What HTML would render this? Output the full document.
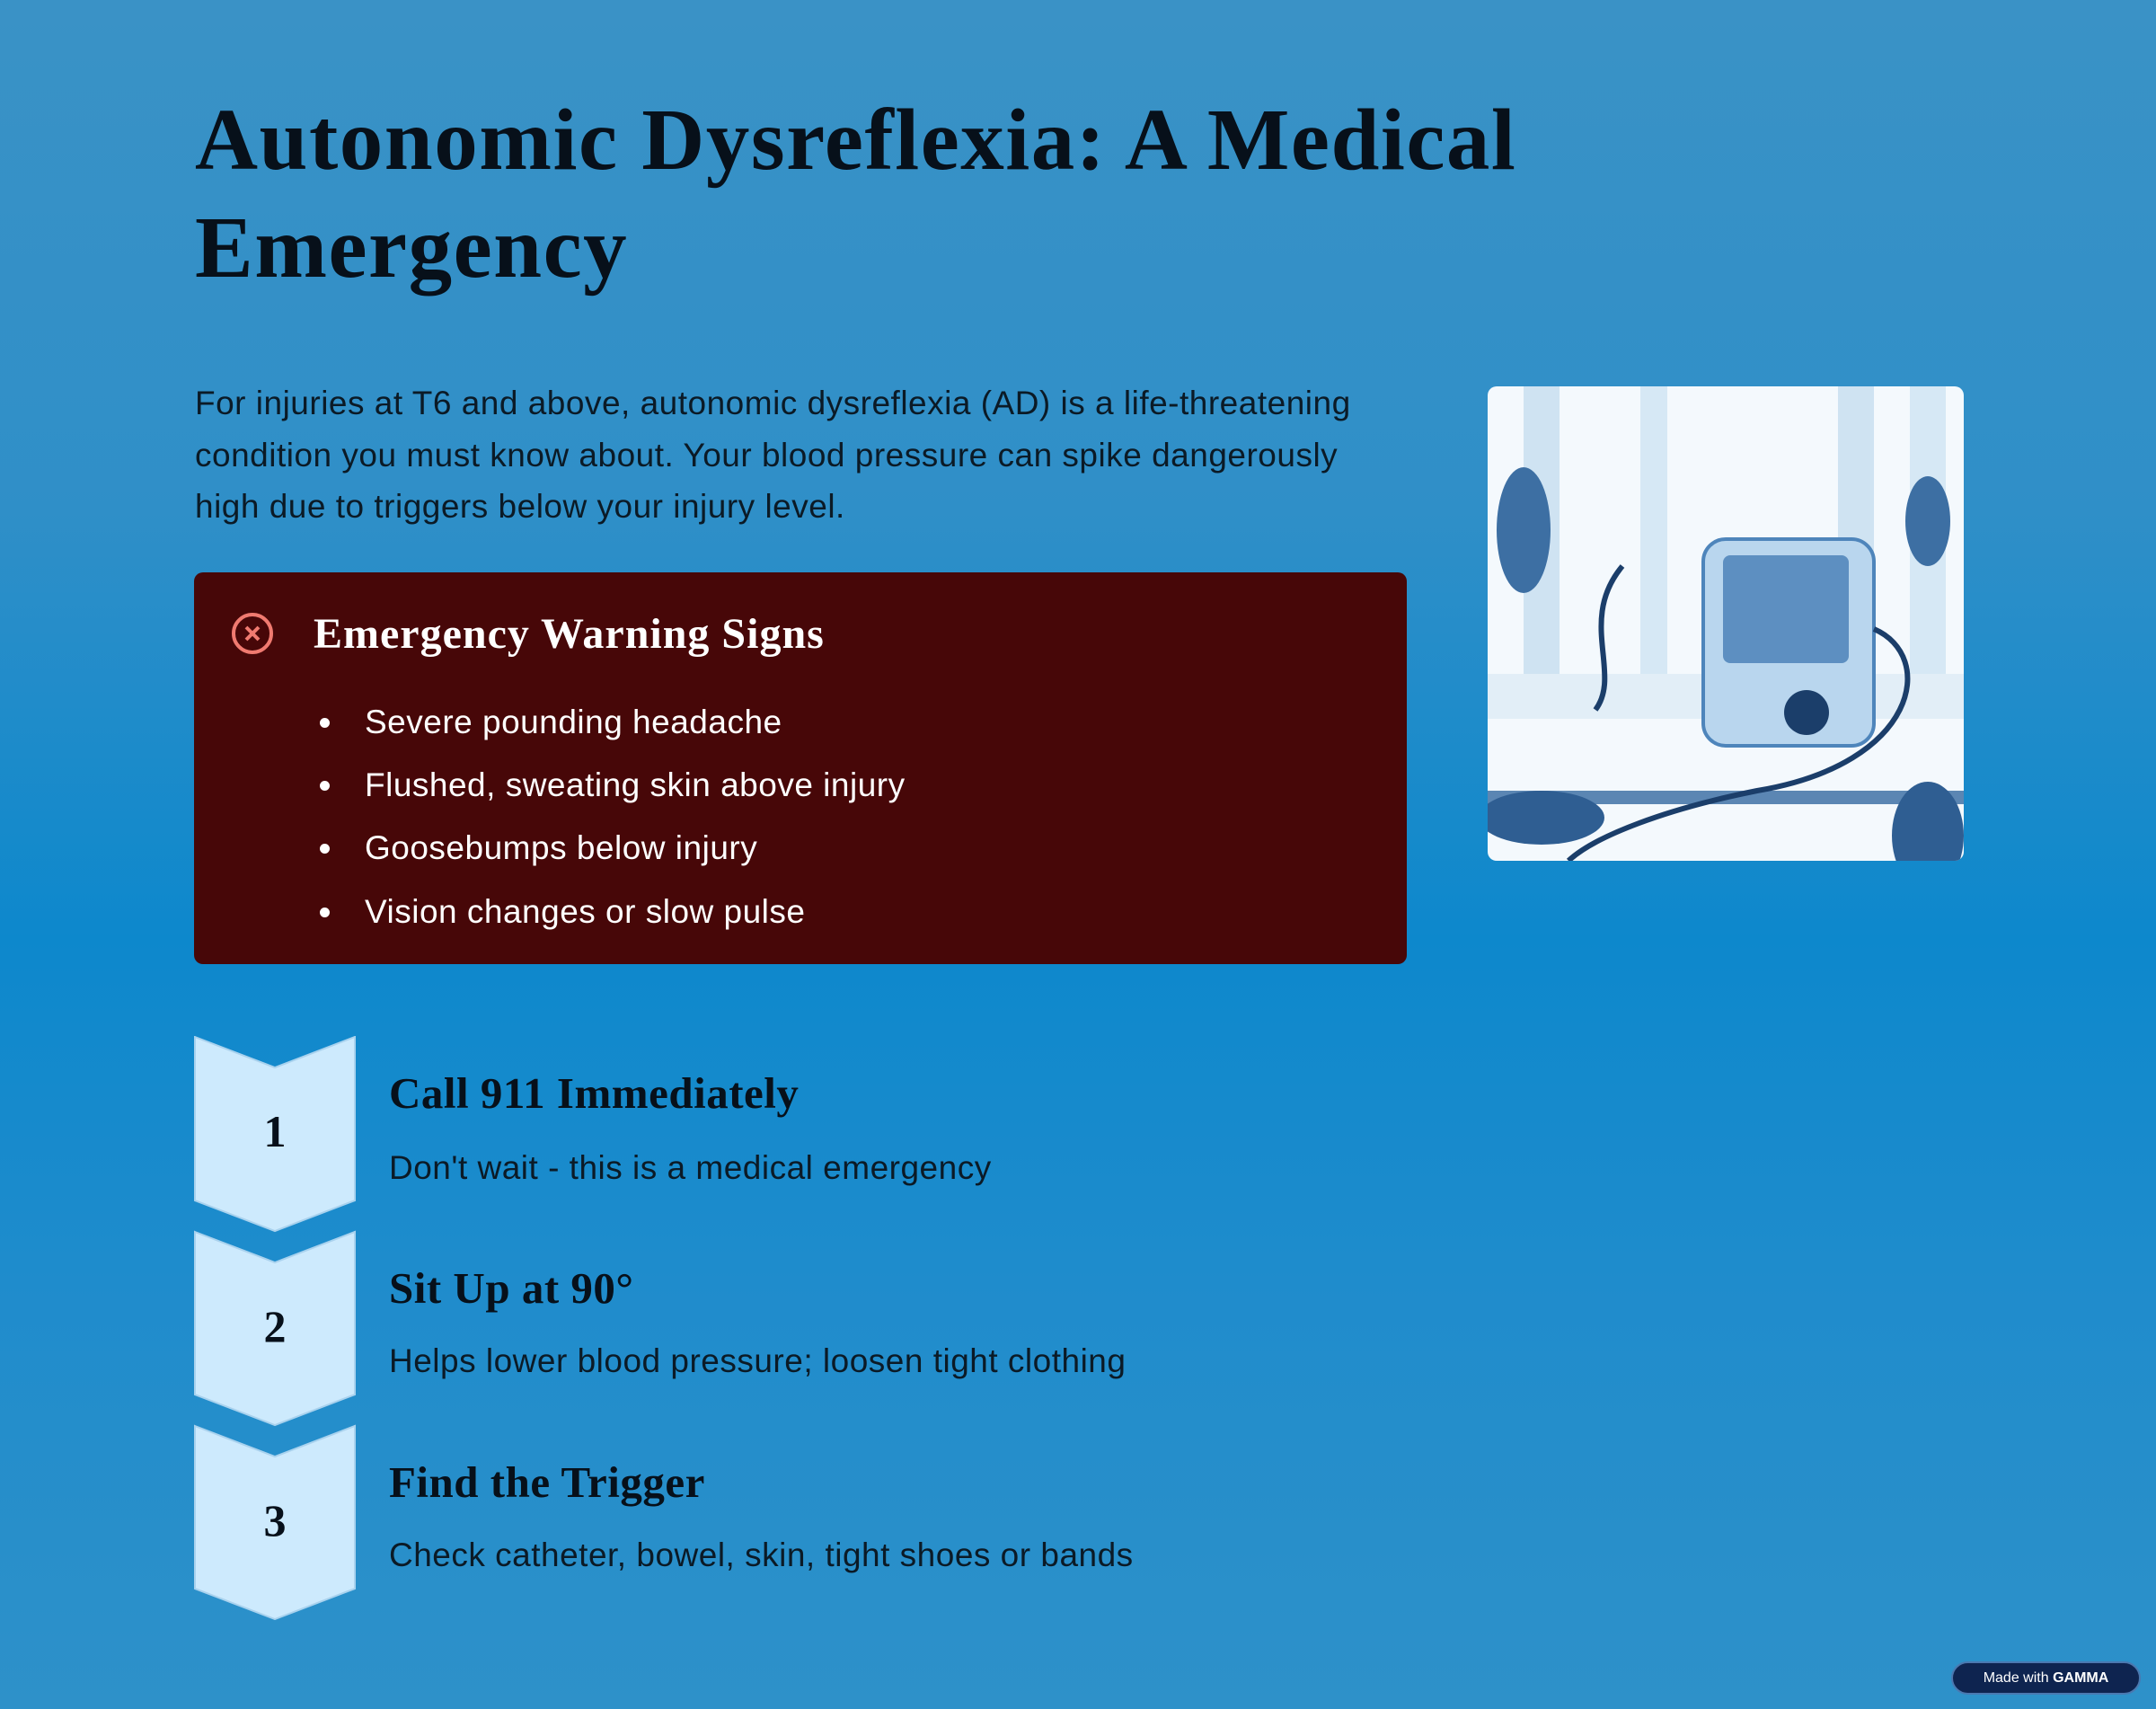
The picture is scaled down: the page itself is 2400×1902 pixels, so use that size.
<!DOCTYPE html>
<html><head><meta charset="utf-8"><style>
*{margin:0;padding:0;box-sizing:border-box}
body{width:2400px;height:1902px;overflow:hidden;position:relative;font-family:"Liberation Sans",sans-serif;
background:linear-gradient(180deg,#3a92c6 0%,#2f8fc8 30%,#0d88cc 55%,#1f8ccc 75%,#2e91c9 100%);}
.a{position:absolute;white-space:nowrap}
h1{position:absolute;left:217px;top:96px;font-family:"Liberation Serif",serif;font-weight:bold;font-size:97px;line-height:120px;color:#07101a;letter-spacing:1.5px}
.p{position:absolute;left:217px;top:420px;font-size:37px;line-height:57.5px;color:#0b1a26;width:1500px;letter-spacing:0.5px}
.box{position:absolute;left:216px;top:637px;width:1350px;height:436px;background:#470708;border-radius:10px}
.bl{position:absolute;left:406px;font-size:37px;color:#fff;line-height:40px;letter-spacing:0.5px}
.dot{position:absolute;left:356px;width:11px;height:11px;border-radius:50%;background:#fff}
.num{position:absolute;left:216px;width:180px;text-align:center;font-family:"Liberation Serif",serif;font-weight:bold;font-size:50px;color:#07101a}
.sh{position:absolute;left:433px;font-family:"Liberation Serif",serif;font-weight:bold;font-size:49px;color:#07101a;letter-spacing:0.5px}
.sd{position:absolute;left:433px;font-size:37px;color:#0b1a26;letter-spacing:0.5px}
</style></head><body>
<h1>Autonomic Dysreflexia: A Medical<br>Emergency</h1>
<div class="p">For injuries at T6 and above, autonomic dysreflexia (AD) is a life-threatening<br>condition you must know about. Your blood pressure can spike dangerously<br>high due to triggers below your injury level.</div>
<div class="box"></div>
<svg class="a" style="left:256px;top:680px" width="50" height="50"><circle cx="25" cy="25" r="21" fill="none" stroke="#f07a70" stroke-width="4"/><path d="M18 18L32 32M32 18L18 32" stroke="#f07a70" stroke-width="4"/></svg>
<div class="a" style="left:349px;top:678px;font-family:'Liberation Serif',serif;font-weight:bold;font-size:48px;color:#fff;letter-spacing:1px">Emergency Warning Signs</div>
<div class="dot" style="top:799px"></div><div class="bl" style="top:784px">Severe pounding headache</div>
<div class="dot" style="top:869px"></div><div class="bl" style="top:854px">Flushed, sweating skin above injury</div>
<div class="dot" style="top:939px"></div><div class="bl" style="top:924px">Goosebumps below injury</div>
<div class="dot" style="top:1010px"></div><div class="bl" style="top:995px">Vision changes or slow pulse</div>

<svg class="a" style="left:1656px;top:430px" width="530" height="528">
<defs><clipPath id="c"><rect width="530" height="528" rx="10"/></clipPath></defs>
<g clip-path="url(#c)">
<rect width="530" height="528" fill="#f4f9fd"/>
<rect x="40" width="40" height="330" fill="#cfe3f2"/><rect x="170" width="30" height="330" fill="#d6e8f5"/>
<rect x="390" width="40" height="330" fill="#cfe3f2"/><rect x="470" width="40" height="330" fill="#d6e8f5"/>
<rect y="320" width="530" height="50" fill="#e2eef7"/><rect y="450" width="530" height="15" fill="#5b86b3"/>
<rect x="240" y="170" width="190" height="230" rx="25" fill="#b9d6ee" stroke="#4e85bb" stroke-width="4"/>
<rect x="262" y="188" width="140" height="120" rx="8" fill="#5d8fc1"/>
<circle cx="355" cy="363" r="25" fill="#1b3e6a"/>
<path d="M150 200C100 260 150 320 120 360M430 270C500 300 480 420 300 450C200 470 120 500 90 528" stroke="#1b3e6a" stroke-width="6" fill="none"/>
<ellipse cx="60" cy="480" rx="70" ry="30" fill="#2f5e92"/><ellipse cx="40" cy="160" rx="30" ry="70" fill="#3d6fa3"/>
<ellipse cx="490" cy="500" rx="40" ry="60" fill="#2f5e92"/><ellipse cx="490" cy="150" rx="25" ry="50" fill="#3d6fa3"/>
</g></svg>

<svg class="a" style="left:216px;top:1153px" width="180" height="650">
<g fill="#cdeafd" stroke="#a9d2ee" stroke-width="2">
<path d="M1 1L90 35L179 1V183L90 217L1 183Z"/>
<path d="M1 218L90 252L179 218V399L90 433L1 399Z"/>
<path d="M1 434L90 468L179 434V615L90 649L1 615Z"/>
</g></svg>
<div class="num" style="top:1230px">1</div>
<div class="num" style="top:1447px">2</div>
<div class="num" style="top:1663px">3</div>
<div class="sh" style="top:1188px">Call 911 Immediately</div>
<div class="sd" style="top:1279px">Don't wait - this is a medical emergency</div>
<div class="sh" style="top:1405px">Sit Up at 90°</div>
<div class="sd" style="top:1494px">Helps lower blood pressure; loosen tight clothing</div>
<div class="sh" style="top:1621px">Find the Trigger</div>
<div class="sd" style="top:1710px">Check catheter, bowel, skin, tight shoes or bands</div>
<div class="a" style="left:2172px;top:1849px;width:211px;height:37px;border-radius:19px;background:#0e2450;border:2px solid #4a78b0;color:#fff;font-size:16px;line-height:33px;text-align:center">Made with <b>GAMMA</b></div>
</body></html>
